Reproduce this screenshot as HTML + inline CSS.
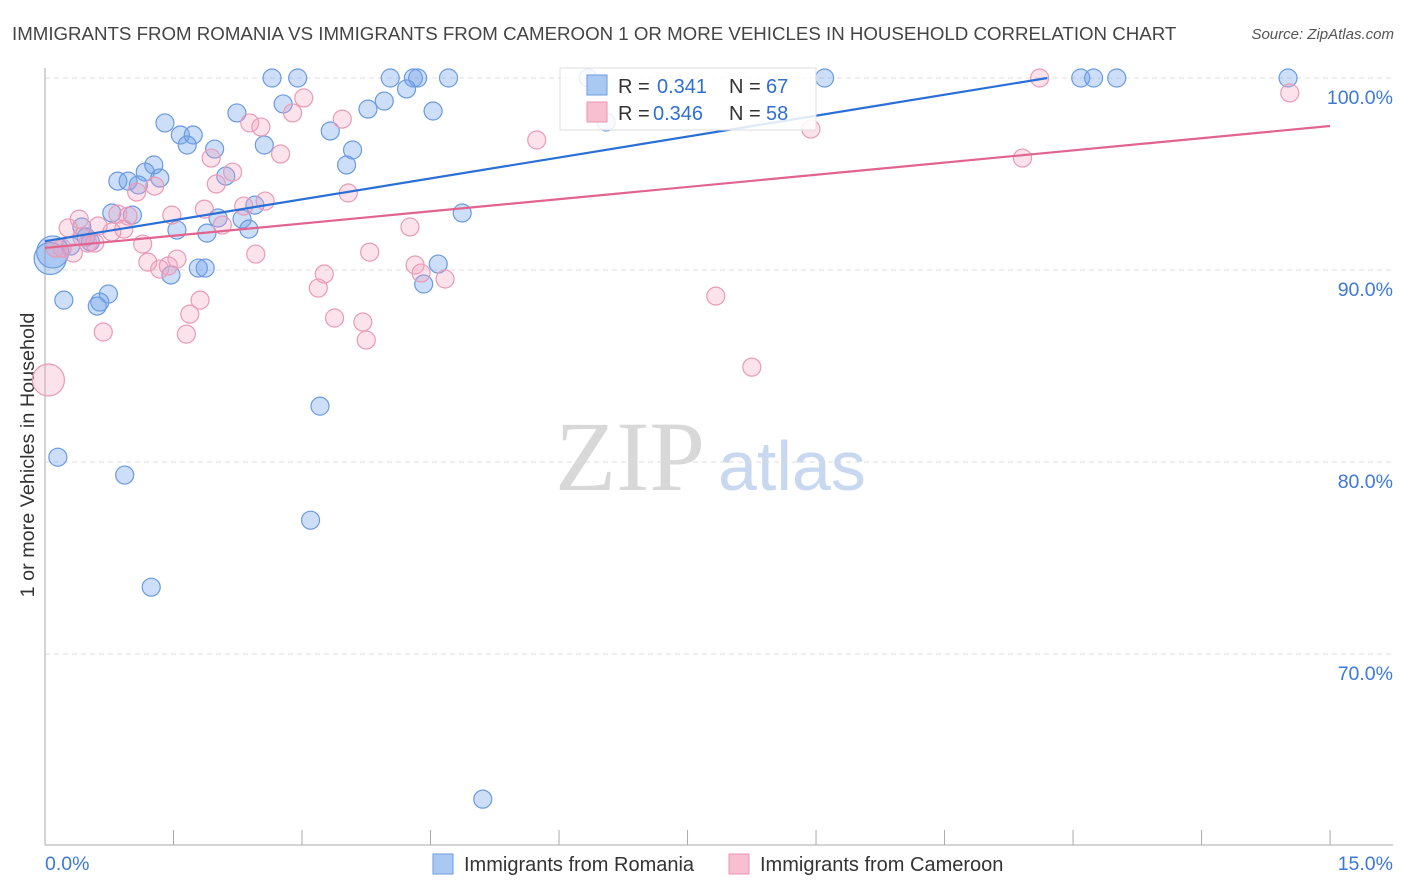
<!DOCTYPE html>
<html><head><meta charset="utf-8"><style>
body{margin:0;background:#fff;font-family:"Liberation Sans",sans-serif;}
svg{display:block}
</style></head><body>
<svg id="chart" width="1406" height="892" xmlns="http://www.w3.org/2000/svg">
<text x="12" y="40" font-size="18.7" fill="#444">IMMIGRANTS FROM ROMANIA VS IMMIGRANTS FROM CAMEROON 1 OR MORE VEHICLES IN HOUSEHOLD CORRELATION CHART</text>
<text x="1394" y="39" font-size="15" fill="#555" font-style="italic" text-anchor="end">Source: ZipAtlas.com</text>
<text x="555" y="490" font-size="100" fill="#d8d8d8" font-family="Liberation Serif,serif">ZIP</text>
<text x="718" y="490" font-size="70" fill="#c8d8f0">atlas</text>
<text transform="translate(34,455) rotate(-90)" font-size="19.8" fill="#333" text-anchor="middle">1 or more Vehicles in Household</text>
<g id="grid"></g><g id="marks"></g><g id="lines"></g>
<g>
<rect x="560" y="68" width="256" height="62" fill="#fff" fill-opacity="0.85" stroke="#ddd"/>
<rect x="587" y="75" width="20" height="20" fill="#a9c8f2" stroke="#6d9be0"/>
<rect x="587" y="102" width="20" height="20" fill="#f7bfd0" stroke="#e896b2"/>
<text y="93" font-size="20" fill="#333"><tspan x="618">R =</tspan><tspan x="657" fill="#2f6fd0">0.341</tspan><tspan x="729">N =</tspan><tspan x="766" fill="#2f6fd0">67</tspan></text>
<text y="120" font-size="20" fill="#333"><tspan x="618">R =</tspan><tspan x="653" fill="#2f6fd0">0.346</tspan><tspan x="729">N =</tspan><tspan x="766" fill="#2f6fd0">58</tspan></text>
</g>
<g>
<rect x="433" y="854" width="20" height="20" fill="#a9c8f2" stroke="#6d9be0"/>
<text x="464" y="871" font-size="20" fill="#333">Immigrants from Romania</text>
<rect x="729" y="854" width="20" height="20" fill="#f7bfd0" stroke="#e896b2"/>
<text x="760" y="871" font-size="20" fill="#333">Immigrants from Cameroon</text>
</g>
</svg>
<script>
const yTicks=[100,90,80,70];
const yTickLabels=["100.0%","90.0%","80.0%","70.0%"];
const xTickValues=[0,1.5,3,4.5,6,7.5,9,10.5,12,13.5,15];
const xEndLabels=["0.0%","15.0%"];
const blueX=[2.65,2.95,4.03,4.30,4.35,4.71,9.10,12.09,12.24,12.51,14.51,6.34,4.22,3.96,3.77,2.78,2.24,4.53,6.55,1.40,3.33,1.58,1.73,2.56,1.66,3.59,1.98,3.52,1.27,1.17,1.34,0.85,0.97,1.09,2.11,2.45,0.78,1.02,2.30,2.02,1.54,1.89,2.38,4.87,0.43,0.48,0.30,0.53,0.09,1.47,1.79,1.87,4.59,4.42,0.74,0.64,0.61,0.22,3.21,0.15,0.93,3.10,1.24,5.11,0.06];
const blueY=[100,100,100,100,100,100,100,100,100,100,100,100,99.43,98.8,98.38,98.65,98.18,98.28,97.71,97.66,97.24,97.03,97.03,96.51,96.51,96.25,96.30,95.47,95.47,95.10,94.79,94.63,94.63,94.43,94.89,93.38,92.97,92.86,92.65,92.71,92.08,91.92,92.13,92.97,92.24,91.72,91.25,91.46,90.94,89.74,90.10,90.10,90.31,89.27,88.75,88.33,88.12,88.43,82.91,80.25,79.32,76.97,73.48,62.44,90.6];
const pinkX=[3.02,2.89,3.47,2.39,2.52,5.74,8.94,11.41,11.61,14.53,2.75,1.94,2.19,2.00,1.28,1.07,3.54,2.57,2.32,1.86,1.48,0.85,0.97,0.40,0.27,0.62,0.92,0.78,2.07,4.26,1.14,0.33,0.50,3.79,1.20,1.54,1.34,1.44,2.46,3.26,4.32,4.39,4.67,3.19,1.81,1.69,0.68,1.65,3.38,3.71,3.75,7.83,8.25,0.04,0.12,0.20,0.43,0.58];
const pinkY=[98.96,98.18,97.86,97.66,97.45,96.77,97.34,95.83,100,99.22,96.04,95.83,95.10,94.48,94.37,94.06,94.01,93.59,93.33,93.17,92.86,92.91,92.81,92.65,92.19,92.29,92.13,91.98,92.34,92.24,91.35,90.88,91.40,90.93,90.41,90.57,90.05,90.21,90.83,89.79,90.26,89.84,89.53,89.06,88.43,87.70,86.77,86.66,87.50,87.29,86.35,88.64,84.94,84.27,91.14,91.14,91.72,91.40];
const blueTrend=[91.5,100,11.7];
const pinkTrend=[91.15,97.5,15];

const NS="http://www.w3.org/2000/svg";
const xs=v=>45+v*85.67;
const ys=v=>78+(100-v)*19.2;
function mk(tag,attrs,parent){const e=document.createElementNS(NS,tag);for(const k in attrs)e.setAttribute(k,attrs[k]);parent.appendChild(e);return e;}
const grid=document.getElementById('grid'),marks=document.getElementById('marks'),lines=document.getElementById('lines');
yTicks.forEach((t,i)=>{
  const l=mk('line',{x1:45,x2:1393,y1:ys(t),y2:ys(t),stroke:'#ddd','stroke-dasharray':'5,4'},grid);
  
  
  const tx=mk('text',{x:1393,y:ys(t)+26,'font-size':19.5,fill:'#3d78d8','text-anchor':'end'},grid);
  tx.textContent=yTickLabels[i];
  
  
});
const ax=mk('line',{x1:45,x2:45,y1:68,y2:845,stroke:'#aaa'},grid);


const bx=mk('line',{x1:45,x2:1393,y1:845,y2:845,stroke:'#aaa'},grid);


xTickValues.forEach(v=>{
  const t=mk('line',{x1:xs(v),x2:xs(v),y1:830,y2:845,stroke:'#aaa'},grid);
  
  
});
const xl0=mk('text',{x:45,y:870,'font-size':19.5,fill:'#3d78d8'},grid);xl0.textContent=xEndLabels[0];


const xl1=mk('text',{x:1393,y:870,'font-size':19.5,fill:'#3d78d8','text-anchor':'end'},grid);xl1.textContent=xEndLabels[1];


function pts(X,Y,fill,stroke,name){
  X.forEach((x,i)=>{
    const c=mk('circle',{cx:xs(x),cy:ys(Y[i]),r:x<0.1?16:9,fill:fill,stroke:stroke,'stroke-width':1.2},marks);
    
    
  });
}
pts(blueX,blueY,'rgba(110,160,235,0.35)','#6a9ae0','point-romania');
pts(pinkX,pinkY,'rgba(245,160,190,0.3)','#ea9ab6','point-cameroon');
const bl=mk('line',{x1:xs(0),y1:ys(blueTrend[0]),x2:xs(blueTrend[2]),y2:ys(blueTrend[1]),stroke:'#2a6fd6','stroke-width':2.2},lines);


const pl=mk('line',{x1:xs(0),y1:ys(pinkTrend[0]),x2:xs(pinkTrend[2]),y2:ys(pinkTrend[1]),stroke:'#e2648e','stroke-width':2.2},lines);


</script>
</body></html>
